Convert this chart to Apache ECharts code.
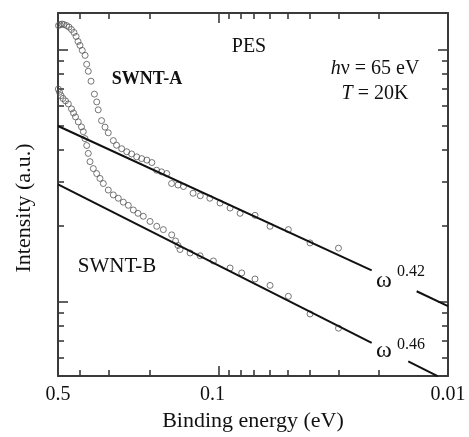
<!DOCTYPE html>
<html><head><meta charset="utf-8">
<script src="https://cdn.jsdelivr.net/npm/echarts@6/dist/echarts.min.js"></script>
<style>html,body{margin:0;padding:0;background:#fff}#c{width:469px;height:437px}</style>
</head><body><div id="c"></div>
<script>
// ---- data (binding energy in eV, intensity in a.u.) ----
const energyA = [0.4975,0.490,0.480,0.471,0.459,0.448,0.437,0.426,0.417,0.409,0.401,0.392,0.381,0.375,0.369,0.359,0.347,0.339,0.334,0.323,0.312,0.302,0.287,0.278,0.264,0.251,0.239,0.227,0.216,0.205,0.195,0.186,0.177,0.168,0.160,0.150,0.142,0.129,0.120,0.109,0.0984,0.0890,0.0805,0.0693,0.0596,0.0496,0.0399,0.0300];
const intensityA = [12.43,12.54,12.60,12.54,12.43,12.26,11.99,11.67,11.25,10.75,10.37,9.91,9.47,8.73,8.19,7.48,6.65,6.19,5.76,5.22,4.92,4.67,4.35,4.17,4.04,3.93,3.85,3.75,3.69,3.64,3.56,3.32,3.27,3.22,2.94,2.90,2.86,2.69,2.63,2.57,2.46,2.35,2.24,2.20,1.99,1.93,1.71,1.63];
const energyB = [0.4985,0.4925,0.4852,0.4755,0.4638,0.4509,0.4367,0.4280,0.4195,0.4079,0.3950,0.3879,0.3814,0.3749,0.3690,0.3627,0.3509,0.3392,0.3281,0.3174,0.3019,0.2872,0.2731,0.2597,0.2470,0.2349,0.2241,0.2125,0.1986,0.1857,0.1738,0.1598,0.1538,0.1500,0.1470,0.1329,0.1202,0.1052,0.0890,0.0792,0.0693,0.0596,0.0496,0.0399,0.0300];
const intensityB = [6.96,6.77,6.56,6.39,6.25,6.08,5.81,5.60,5.40,5.16,4.93,4.72,4.43,4.16,3.87,3.59,3.37,3.22,3.08,2.94,2.77,2.65,2.57,2.48,2.41,2.31,2.24,2.18,2.08,1.99,1.93,1.84,1.74,1.67,1.61,1.56,1.52,1.45,1.36,1.30,1.23,1.16,1.05,0.894,0.785];
// power-law guide lines (two segments each, interrupted by the label)
const fitA_E = [0.5, 0.0215, null, 0.0137, 0.01];
const fitA_I = [4.97, 1.33, null, 1.10, 0.96];
const fitB_E = [0.5, 0.0215, null, 0.0149, 0.0111];
const fitB_I = [2.92, 0.686, null, 0.580, 0.507];
// axes
const xRange = [0.5, 0.01];
const yRange = [0.507, 13.94];
const xLabelValues = [0.5, 0.1, 0.01];
const xMajorTicks = [0.1];
const xMinorTicks = [0.4,0.3,0.2,0.09,0.08,0.07,0.06,0.05,0.04,0.03,0.02];
const yMajorTicks = [1, 10];
const yMinorTicks = [0.6,0.7,0.8,0.9,2,3,4,5,6,7,8,9];

const lg = Math.log10;
const FONT = "'Liberation Serif','DejaVu Serif',serif";
const AX = '#3a3a3a';

function segments(E, I) {
  const segs = []; let cur = [];
  E.forEach((e, i) => {
    if (e === null) { if (cur.length) segs.push(cur); cur = []; }
    else cur.push([lg(e), lg(I[i])]);
  });
  if (cur.length) segs.push(cur);
  return segs;
}

function xAx(pos, ticks, len, showLine, showLabel) {
  return {
    type: 'value', position: pos, gridIndex: 0,
    min: lg(xRange[1]), max: lg(xRange[0]), inverse: true,
    axisLine: { show: showLine, onZero: false, lineStyle: { color: AX, width: 2 } },
    axisTick: { show: true, inside: true, length: len, customValues: ticks.map(lg), lineStyle: { color: AX, width: 1.6 } },
    splitLine: { show: false },
    axisLabel: showLabel ? {
      show: true, customValues: xLabelValues.map(lg), margin: 9,
      fontFamily: FONT, fontSize: 20, color: '#111',
      formatter: v => { const s = String(+Math.pow(10, v).toPrecision(1)); return s === '0.1' ? '{s|0.1}' : s; },
      rich: { s: { padding: [0, 12, 0, 0], fontFamily: FONT, fontSize: 20, color: '#111' } }
    } : { show: false },
    name: showLabel ? 'Binding energy (eV)' : '', nameLocation: 'middle', nameGap: 30,
    nameTextStyle: { fontFamily: FONT, fontSize: 22, color: '#111' }
  };
}
function yAx(pos, ticks, len, showLine) {
  return {
    type: 'value', position: pos, gridIndex: 0,
    min: lg(yRange[0]), max: lg(yRange[1]),
    axisLine: { show: showLine, onZero: false, lineStyle: { color: AX, width: 2 } },
    axisTick: { show: true, inside: true, length: len, customValues: ticks.map(lg), lineStyle: { color: AX, width: 1.6 } },
    splitLine: { show: false },
    axisLabel: { show: false }
  };
}

const series = [];
[[energyA, intensityA], [energyB, intensityB]].forEach(([E, I]) => {
  series.push({
    type: 'scatter', xAxisIndex: 0, yAxisIndex: 0, symbol: 'circle', symbolSize: 6,
    itemStyle: { color: 'rgba(0,0,0,0)', borderColor: '#555', borderWidth: 1 },
    data: E.map((e, i) => [lg(e), lg(I[i])]), z: 2
  });
});
[[fitA_E, fitA_I], [fitB_E, fitB_I]].forEach(([E, I]) => {
  segments(E, I).forEach(seg => series.push({
    type: 'line', xAxisIndex: 0, yAxisIndex: 0, showSymbol: false, symbol: 'none',
    lineStyle: { color: '#111', width: 2 }, data: seg, z: 3, clip: true
  }));
});

const txt = (x, y, text, size, extra) => ({
  type: 'text', x, y, z: 10,
  style: Object.assign({ text, fontFamily: FONT, fontSize: size, fill: '#111', textAlign: 'center', textVerticalAlign: 'middle' }, extra || {})
});

const chart = echarts.init(document.getElementById('c'), null, { renderer: 'canvas' });
chart.setOption({
  animation: false,
  backgroundColor: '#fff',
  grid: { left: 58, right: 21, top: 13, bottom: 58 },
  xAxis: [
    xAx('bottom', xMajorTicks, 10, true, true),
    xAx('bottom', xMinorTicks, 6, false, false),
    xAx('top', xMajorTicks, 10, true, false),
    xAx('top', xMinorTicks, 6, false, false)
  ],
  yAxis: [
    yAx('left', yMajorTicks, 10, true),
    yAx('left', yMinorTicks, 6, false),
    yAx('right', yMajorTicks, 10, true),
    yAx('right', yMinorTicks, 6, false)
  ],
  series,
  graphic: [
    txt(249, 47, 'PES', 20),
    txt(375, 69, '{i|h}ν = 65 eV', 20, { rich: { i: { fontStyle: 'italic', fontFamily: FONT, fontSize: 20, fill: '#111' } } }),
    txt(375, 94, '{i|T} = 20K', 20, { rich: { i: { fontStyle: 'italic', fontFamily: FONT, fontSize: 20, fill: '#111' } } }),
    txt(147, 79, 'SWNT-A', 18, { fontWeight: 'bold' }),
    txt(117, 266, 'SWNT-B', 21),
    txt(376, 281, 'ω', 24, { textAlign: 'left' }),
    txt(397, 272, '0.42', 16, { textAlign: 'left' }),
    txt(376, 351, 'ω', 24, { textAlign: 'left' }),
    txt(397, 345, '0.46', 16, { textAlign: 'left' }),
    txt(24, 208, 'Intensity (a.u.)', 22, { }) 
  ].map((g, i, arr) => i === arr.length - 1 ? Object.assign(g, { rotation: Math.PI / 2 }) : g)
});
</script>
</body></html>
